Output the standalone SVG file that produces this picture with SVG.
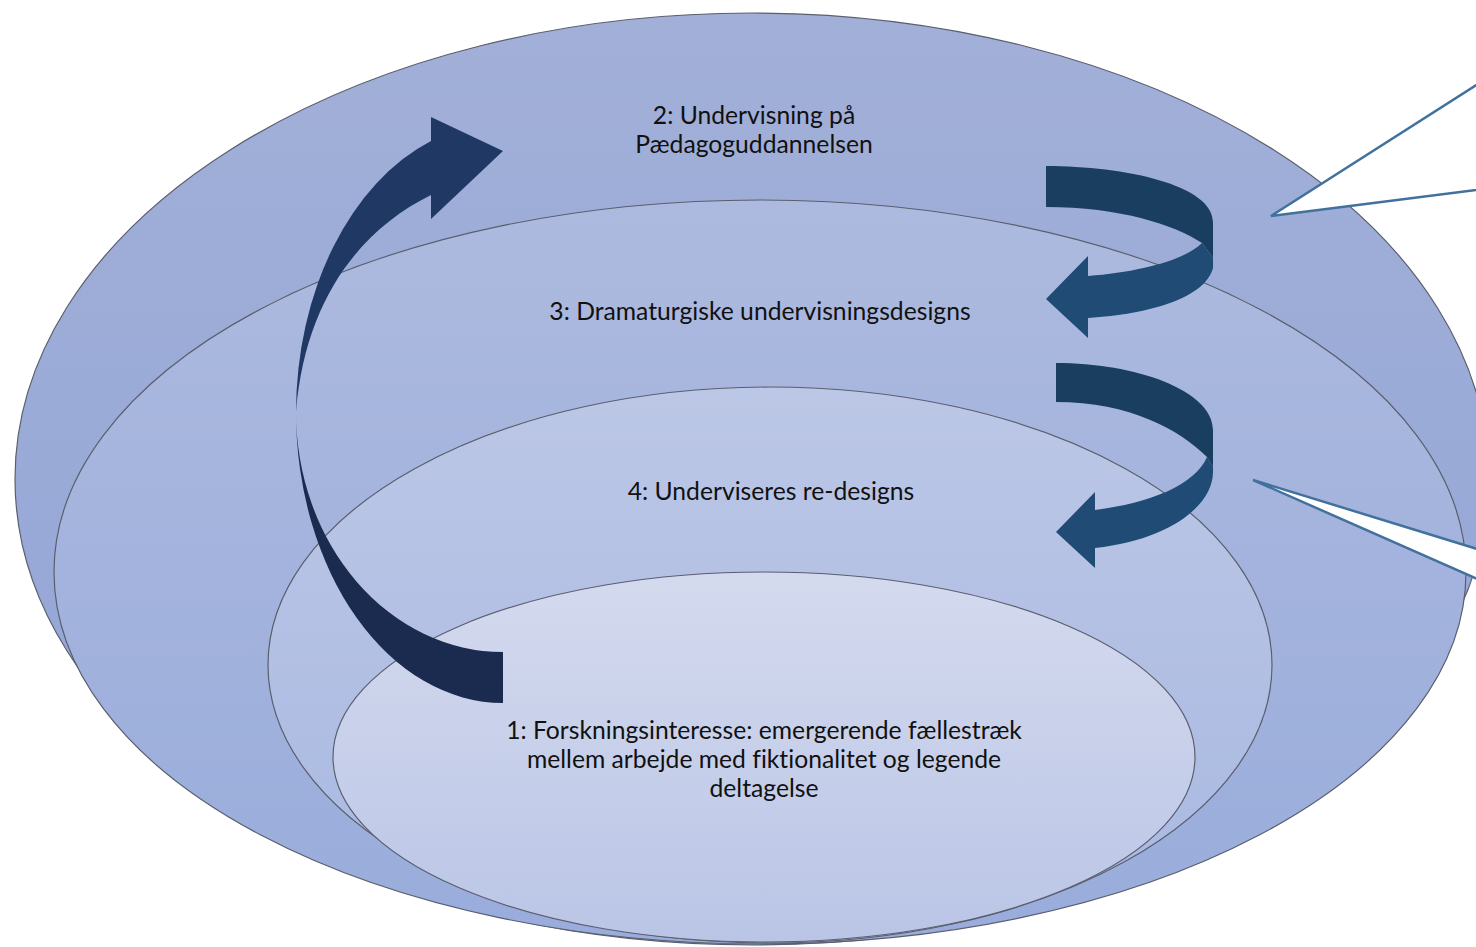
<svg xmlns="http://www.w3.org/2000/svg" width="1476" height="947" viewBox="0 0 1476 947">
<defs>
<linearGradient id="g1" x1="0" y1="0" x2="0" y2="1"><stop offset="0" stop-color="#A2B0D8"/><stop offset="1" stop-color="#91A4D7"/></linearGradient>
<linearGradient id="g2" x1="0" y1="0" x2="0" y2="1"><stop offset="0" stop-color="#ADBADF"/><stop offset="1" stop-color="#99ACDB"/></linearGradient>
<linearGradient id="g3" x1="0" y1="0" x2="0" y2="1"><stop offset="0" stop-color="#BCC7E6"/><stop offset="1" stop-color="#A8B8E1"/></linearGradient>
<linearGradient id="g4" x1="0" y1="0" x2="0" y2="1"><stop offset="0" stop-color="#D4DAEE"/><stop offset="1" stop-color="#BAC5E6"/></linearGradient>
<style>
.ring{stroke:#5a5f6e;stroke-width:1.2}
.lbl{font-family:Lato,"Open Sans","Liberation Sans",sans-serif;font-size:24.7px;fill:#111;text-anchor:middle;font-variant-ligatures:none}
.call{fill:#fff;stroke:#41719C;stroke-width:2.5;stroke-linejoin:miter}
.bigf{fill:#203864}
.bigb{fill:#1B2B4F}
.smf{fill:#1F4B74}
.smb{fill:#1A3E5F}
</style>
</defs>
<rect width="1476" height="947" fill="#fff"/>
<g id="level2">
<ellipse class="ring" cx="752" cy="479" rx="737" ry="466" fill="url(#g1)"/>
</g>
<g id="level3">
<ellipse class="ring" cx="760" cy="572" rx="706" ry="372" fill="url(#g2)"/>
</g>
<g id="level4">
<ellipse class="ring" cx="770" cy="665" rx="502" ry="278" fill="url(#g3)"/>
</g>
<g id="level1">
<ellipse class="ring" cx="764" cy="757" rx="431" ry="185" fill="url(#g4)"/>
</g>
<g id="connectors">
<g id="arrow-up">
<path class="bigb" d="M296,412 A207,291 0 0 0 503,703 L503,652 A207,240 0 0 1 296,412 Z"/>
<path class="bigf" d="M296,412 A207,290 0 0 1 431,141 L431,117 L503,151 L431,219 L431,195 C360,230 305,300 296,412 Z"/>
</g>
<g id="arrow-a">
<path class="smb" d="M1046,166 C1125,166 1213,185 1213,222 L1213,258 L1202,243 C1175,225 1120,207 1046,207 Z"/>
<path class="smf" d="M1202,243 L1213,258 L1213,268 C1205,298 1150,314 1088,318 L1088,338 L1046,299 L1088,256 L1088,276 C1140,272 1185,260 1202,243 Z"/>
</g>
<g id="arrow-b">
<path class="smb" d="M1056,363 C1135,363 1213,390 1213,430 L1213,467 L1207,457 C1180,430 1130,402 1056,402 Z"/>
<path class="smf" d="M1207,457 L1213,467 L1213,472 C1213,505 1170,540 1095,548 L1095,568 L1056,532 L1095,492 L1095,510 C1150,503 1195,485 1207,457 Z"/>
</g>
<polygon id="callout-top" class="call" points="1271,216 1500,70 1500,187"/>
<polygon id="callout-bottom" class="call" points="1253,480 1500,556 1500,589"/>
</g>
<g id="labels">
<text class="lbl" x="754" y="124">2: Undervisning på</text>
<text class="lbl" x="754" y="153">Pædagoguddannelsen</text>
<text class="lbl" x="760" y="320">3: Dramaturgiske undervisningsdesigns</text>
<text class="lbl" x="771" y="500">4: Underviseres re-designs</text>
<text class="lbl" x="764" y="739">1: Forskningsinteresse: emergerende fællestræk</text>
<text class="lbl" x="764" y="768">mellem arbejde med fiktionalitet og legende</text>
<text class="lbl" x="764" y="797">deltagelse</text>
</g>
</svg>
